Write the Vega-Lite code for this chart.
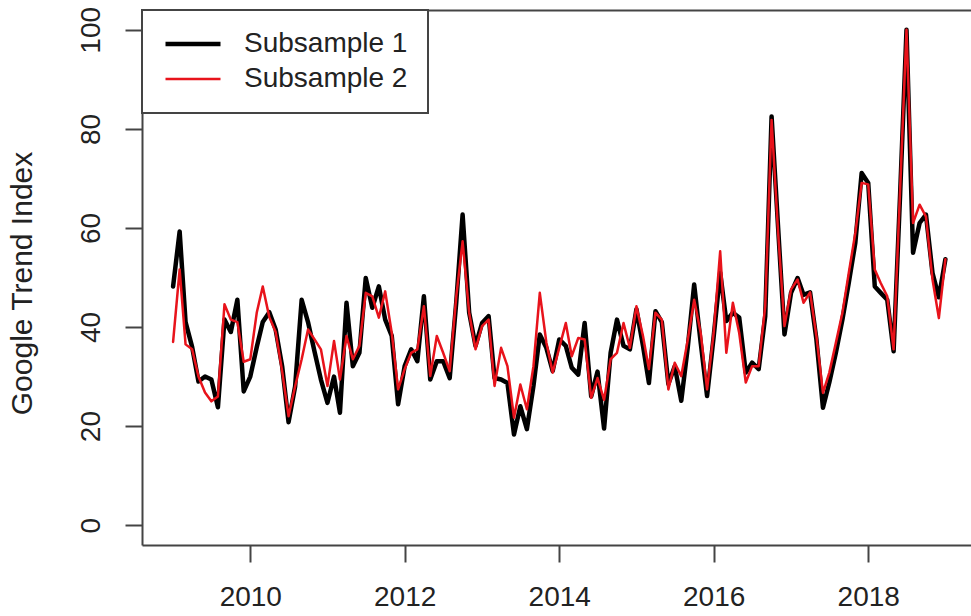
{
  "$schema": "https://vega.github.io/schema/vega-lite/v6.json",
  "width": 829,
  "height": 535,
  "autosize": {"type": "none"},
  "padding": {"left": 142, "top": 10, "right": 0, "bottom": 71},
  "background": "white",
  "config": {
    "view": {"stroke": null},
    "font": "Liberation Sans",
    "axis": {
      "grid": false,
      "domainColor": "#444444",
      "domainWidth": 2,
      "tickColor": "#444444",
      "tickWidth": 2,
      "tickSize": 17,
      "labelFont": "Liberation Sans",
      "labelFontSize": 28,
      "labelColor": "#222222",
      "labelFlush": false,
      "labelOverlap": false,
      "titleFont": "Liberation Sans",
      "titleFontSize": 30,
      "titleColor": "#222222",
      "titleFontWeight": "normal"
    },
    "legend": {
      "orient": "none",
      "legendX": 0,
      "legendY": 0,
      "padding": 20,
      "strokeColor": "#444444",
      "fillColor": "white",
      "symbolType": "M-5,0H5",
      "symbolSize": 121,
      "symbolOffset": 17,
      "symbolOpacity": 1,
      "labelFont": "Liberation Sans",
      "labelFontSize": 28,
      "labelColor": "#222222",
      "labelOffset": 37,
      "labelLimit": 400,
      "rowPadding": 7
    }
  },
  "data": {
    "values": [
      {"date": "2009-01-01", "Subsample 1": 48.2, "Subsample 2": 37},
      {"date": "2009-02-01", "Subsample 1": 59.3, "Subsample 2": 51.6},
      {"date": "2009-03-01", "Subsample 1": 41, "Subsample 2": 36.5},
      {"date": "2009-04-01", "Subsample 1": 36, "Subsample 2": 35.5},
      {"date": "2009-05-01", "Subsample 1": 29, "Subsample 2": 30},
      {"date": "2009-06-01", "Subsample 1": 30, "Subsample 2": 26.8},
      {"date": "2009-07-01", "Subsample 1": 29.4, "Subsample 2": 25},
      {"date": "2009-08-01", "Subsample 1": 23.8, "Subsample 2": 26},
      {"date": "2009-09-01", "Subsample 1": 41.5, "Subsample 2": 44.6},
      {"date": "2009-10-01", "Subsample 1": 39, "Subsample 2": 41.5},
      {"date": "2009-11-01", "Subsample 1": 45.5, "Subsample 2": 41},
      {"date": "2009-12-01", "Subsample 1": 27, "Subsample 2": 33},
      {"date": "2010-01-01", "Subsample 1": 30, "Subsample 2": 33.5},
      {"date": "2010-02-01", "Subsample 1": 36, "Subsample 2": 43},
      {"date": "2010-03-01", "Subsample 1": 41, "Subsample 2": 48.2},
      {"date": "2010-04-01", "Subsample 1": 43, "Subsample 2": 42},
      {"date": "2010-05-01", "Subsample 1": 39.5, "Subsample 2": 39},
      {"date": "2010-06-01", "Subsample 1": 32, "Subsample 2": 31},
      {"date": "2010-07-01", "Subsample 1": 20.8, "Subsample 2": 22},
      {"date": "2010-08-01", "Subsample 1": 28, "Subsample 2": 28},
      {"date": "2010-09-01", "Subsample 1": 45.5, "Subsample 2": 33.5},
      {"date": "2010-10-01", "Subsample 1": 41, "Subsample 2": 39.5},
      {"date": "2010-11-01", "Subsample 1": 35, "Subsample 2": 37.5},
      {"date": "2010-12-01", "Subsample 1": 29.4, "Subsample 2": 35.5},
      {"date": "2011-01-01", "Subsample 1": 24.7, "Subsample 2": 28.1},
      {"date": "2011-02-01", "Subsample 1": 30, "Subsample 2": 37.2},
      {"date": "2011-03-01", "Subsample 1": 22.7, "Subsample 2": 29.4},
      {"date": "2011-04-01", "Subsample 1": 44.9, "Subsample 2": 38.2},
      {"date": "2011-05-01", "Subsample 1": 32.1, "Subsample 2": 33.5},
      {"date": "2011-06-01", "Subsample 1": 34.8, "Subsample 2": 36.2},
      {"date": "2011-07-01", "Subsample 1": 49.9, "Subsample 2": 46.9},
      {"date": "2011-08-01", "Subsample 1": 43.9, "Subsample 2": 46.2},
      {"date": "2011-09-01", "Subsample 1": 48.2, "Subsample 2": 41.9},
      {"date": "2011-10-01", "Subsample 1": 41.5, "Subsample 2": 47.2},
      {"date": "2011-11-01", "Subsample 1": 38.2, "Subsample 2": 38.8},
      {"date": "2011-12-01", "Subsample 1": 24.4, "Subsample 2": 27.4},
      {"date": "2012-01-01", "Subsample 1": 32.1, "Subsample 2": 31.5},
      {"date": "2012-02-01", "Subsample 1": 35.5, "Subsample 2": 34.8},
      {"date": "2012-03-01", "Subsample 1": 33.1, "Subsample 2": 35.5},
      {"date": "2012-04-01", "Subsample 1": 46.2, "Subsample 2": 44.2},
      {"date": "2012-05-01", "Subsample 1": 29.4, "Subsample 2": 30.1},
      {"date": "2012-06-01", "Subsample 1": 33.1, "Subsample 2": 38.2},
      {"date": "2012-07-01", "Subsample 1": 33.1, "Subsample 2": 34.8},
      {"date": "2012-08-01", "Subsample 1": 29.7, "Subsample 2": 31.1},
      {"date": "2012-09-01", "Subsample 1": 45, "Subsample 2": 46.2},
      {"date": "2012-10-01", "Subsample 1": 62.7, "Subsample 2": 57.3},
      {"date": "2012-11-01", "Subsample 1": 42.9, "Subsample 2": 42.9},
      {"date": "2012-12-01", "Subsample 1": 36.2, "Subsample 2": 35.5},
      {"date": "2013-01-01", "Subsample 1": 40.8, "Subsample 2": 40.2},
      {"date": "2013-02-01", "Subsample 1": 42.2, "Subsample 2": 41.5},
      {"date": "2013-03-01", "Subsample 1": 29.7, "Subsample 2": 28.1},
      {"date": "2013-04-01", "Subsample 1": 29.4, "Subsample 2": 35.8},
      {"date": "2013-05-01", "Subsample 1": 28.7, "Subsample 2": 32.1},
      {"date": "2013-06-01", "Subsample 1": 18.3, "Subsample 2": 21.7},
      {"date": "2013-07-01", "Subsample 1": 24, "Subsample 2": 28.4},
      {"date": "2013-08-01", "Subsample 1": 19.4, "Subsample 2": 23.4},
      {"date": "2013-09-01", "Subsample 1": 28.1, "Subsample 2": 32.1},
      {"date": "2013-10-01", "Subsample 1": 38.5, "Subsample 2": 46.9},
      {"date": "2013-11-01", "Subsample 1": 35.8, "Subsample 2": 36.9},
      {"date": "2013-12-01", "Subsample 1": 31.1, "Subsample 2": 30.8},
      {"date": "2014-01-01", "Subsample 1": 37.5, "Subsample 2": 35.8},
      {"date": "2014-02-01", "Subsample 1": 36.2, "Subsample 2": 40.8},
      {"date": "2014-03-01", "Subsample 1": 31.8, "Subsample 2": 34.1},
      {"date": "2014-04-01", "Subsample 1": 30.4, "Subsample 2": 37.8},
      {"date": "2014-05-01", "Subsample 1": 40.8, "Subsample 2": 37.5},
      {"date": "2014-06-01", "Subsample 1": 26, "Subsample 2": 25.7},
      {"date": "2014-07-01", "Subsample 1": 31, "Subsample 2": 29.7},
      {"date": "2014-08-01", "Subsample 1": 19.5, "Subsample 2": 25.3},
      {"date": "2014-09-01", "Subsample 1": 34.8, "Subsample 2": 33.5},
      {"date": "2014-10-01", "Subsample 1": 41.5, "Subsample 2": 34.8},
      {"date": "2014-11-01", "Subsample 1": 36.2, "Subsample 2": 40.8},
      {"date": "2014-12-01", "Subsample 1": 35.5, "Subsample 2": 35.8},
      {"date": "2015-01-01", "Subsample 1": 43.6, "Subsample 2": 44.2},
      {"date": "2015-02-01", "Subsample 1": 36.2, "Subsample 2": 38.2},
      {"date": "2015-03-01", "Subsample 1": 28.7, "Subsample 2": 31.5},
      {"date": "2015-04-01", "Subsample 1": 43.2, "Subsample 2": 42.9},
      {"date": "2015-05-01", "Subsample 1": 41, "Subsample 2": 41.5},
      {"date": "2015-06-01", "Subsample 1": 28.5, "Subsample 2": 27.4},
      {"date": "2015-07-01", "Subsample 1": 32.1, "Subsample 2": 32.8},
      {"date": "2015-08-01", "Subsample 1": 25.1, "Subsample 2": 30.1},
      {"date": "2015-09-01", "Subsample 1": 36, "Subsample 2": 37.5},
      {"date": "2015-10-01", "Subsample 1": 48.6, "Subsample 2": 45.5},
      {"date": "2015-11-01", "Subsample 1": 36.8, "Subsample 2": 38.8},
      {"date": "2015-12-01", "Subsample 1": 26.1, "Subsample 2": 27.4},
      {"date": "2016-01-01", "Subsample 1": 38, "Subsample 2": 38.8},
      {"date": "2016-02-01", "Subsample 1": 51, "Subsample 2": 55.3},
      {"date": "2016-03-01", "Subsample 1": 41.2, "Subsample 2": 34.8},
      {"date": "2016-04-01", "Subsample 1": 42.9, "Subsample 2": 44.9},
      {"date": "2016-05-01", "Subsample 1": 41.9, "Subsample 2": 38.8},
      {"date": "2016-06-01", "Subsample 1": 30.8, "Subsample 2": 28.8},
      {"date": "2016-07-01", "Subsample 1": 32.8, "Subsample 2": 32.1},
      {"date": "2016-08-01", "Subsample 1": 31.5, "Subsample 2": 32.1},
      {"date": "2016-09-01", "Subsample 1": 42.2, "Subsample 2": 44.2},
      {"date": "2016-10-01", "Subsample 1": 82.5, "Subsample 2": 81.8},
      {"date": "2016-11-01", "Subsample 1": 60, "Subsample 2": 59},
      {"date": "2016-12-01", "Subsample 1": 38.5, "Subsample 2": 40.2},
      {"date": "2017-01-01", "Subsample 1": 46.9, "Subsample 2": 47.6},
      {"date": "2017-02-01", "Subsample 1": 49.9, "Subsample 2": 49.6},
      {"date": "2017-03-01", "Subsample 1": 46.5, "Subsample 2": 44.9},
      {"date": "2017-04-01", "Subsample 1": 47, "Subsample 2": 47},
      {"date": "2017-05-01", "Subsample 1": 37.5, "Subsample 2": 38.2},
      {"date": "2017-06-01", "Subsample 1": 23.7, "Subsample 2": 26.7},
      {"date": "2017-07-01", "Subsample 1": 28.8, "Subsample 2": 30.8},
      {"date": "2017-08-01", "Subsample 1": 34.8, "Subsample 2": 36.8},
      {"date": "2017-09-01", "Subsample 1": 41.5, "Subsample 2": 42.9},
      {"date": "2017-10-01", "Subsample 1": 48.9, "Subsample 2": 50.9},
      {"date": "2017-11-01", "Subsample 1": 57, "Subsample 2": 59},
      {"date": "2017-12-01", "Subsample 1": 71.1, "Subsample 2": 69.1},
      {"date": "2018-01-01", "Subsample 1": 69.1, "Subsample 2": 68.8},
      {"date": "2018-02-01", "Subsample 1": 48.2, "Subsample 2": 51.6},
      {"date": "2018-03-01", "Subsample 1": 46.9, "Subsample 2": 48.9},
      {"date": "2018-04-01", "Subsample 1": 45.5, "Subsample 2": 46.2},
      {"date": "2018-05-01", "Subsample 1": 35.1, "Subsample 2": 35.5},
      {"date": "2018-06-01", "Subsample 1": 67, "Subsample 2": 68},
      {"date": "2018-07-01", "Subsample 1": 100, "Subsample 2": 100},
      {"date": "2018-08-01", "Subsample 1": 55, "Subsample 2": 61},
      {"date": "2018-09-01", "Subsample 1": 61, "Subsample 2": 64.7},
      {"date": "2018-10-01", "Subsample 1": 62.7, "Subsample 2": 62.3},
      {"date": "2018-11-01", "Subsample 1": 50.9, "Subsample 2": 49.6},
      {"date": "2018-12-01", "Subsample 1": 46, "Subsample 2": 41.8},
      {"date": "2019-01-01", "Subsample 1": 53.7, "Subsample 2": 53.7}
    ]
  },
  "transform": [{"fold": ["Subsample 1", "Subsample 2"], "as": ["series", "value"]}],
  "layer": [
    {
      "mark": {"type": "line", "strokeJoin": "round", "strokeCap": "round"},
      "encoding": {
        "x": {
          "field": "date",
          "type": "temporal",
          "scale": {
            "type": "utc",
            "domain": [
              {"year": 2008, "month": 8, "date": 7, "utc": true},
              {"year": 2019, "month": 5, "date": 2, "utc": true}
            ]
          },
          "axis": {
            "orient": "bottom",
            "title": null,
            "format": "%Y",
            "labelPadding": 21,
            "values": [
              {"year": 2010, "utc": true},
              {"year": 2012, "utc": true},
              {"year": 2014, "utc": true},
              {"year": 2016, "utc": true},
              {"year": 2018, "utc": true}
            ]
          }
        },
        "y": {
          "field": "value",
          "type": "quantitative",
          "scale": {"domain": [-4, 104], "nice": false, "zero": false},
          "axis": {
            "values": [0, 20, 40, 60, 80, 100],
            "labelAngle": -90,
            "labelAlign": "center",
            "labelBaseline": "bottom",
            "labelPadding": 20,
            "title": "Google Trend Index",
            "titleAngle": -90,
            "titleX": -120,
            "titleY": 273,
            "titleAlign": "center",
            "titleBaseline": "middle"
          }
        },
        "color": {
          "field": "series",
          "type": "nominal",
          "title": null,
          "scale": {"domain": ["Subsample 1", "Subsample 2"], "range": ["#000000", "#e8131b"]},
          "legend": {"title": null, "encode": {"legend": {"update": {"strokeWidth": {"value": 2}}}}}
        },
        "strokeWidth": {
          "field": "series",
          "type": "nominal",
          "title": null,
          "scale": {"type": "ordinal", "domain": ["Subsample 1", "Subsample 2"], "range": [4.5, 2.5]},
          "legend": {"title": null}
        }
      }
    },
    {
      "mark": {"type": "line", "opacity": 0},
      "encoding": {
        "x": {
          "field": "date",
          "type": "temporal",
          "axis": {"orient": "top", "labels": false, "ticks": false, "title": null, "domain": true}
        },
        "y": {"field": "value", "type": "quantitative"},
        "detail": {"field": "series"}
      }
    }
  ],
  "resolve": {"axis": {"x": "independent"}}
}
